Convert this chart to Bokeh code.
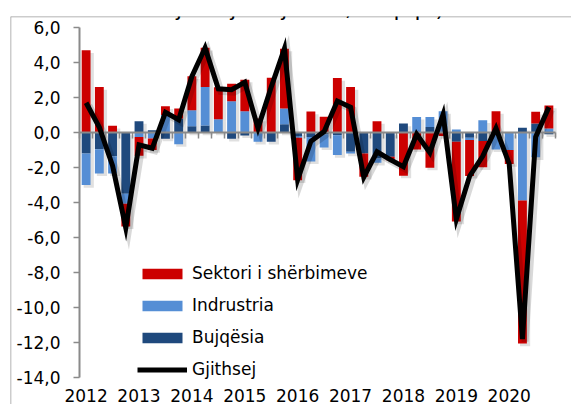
from bokeh.plotting import figure
from bokeh.models import (Range1d, LinearAxis, FixedTicker, Legend, LegendItem,
                          Label, ColumnDataSource)
from bokeh.embed import file_html
from bokeh.resources import INLINE

# ---------------- data (quarterly, 2012Q1 - 2020Q4) ----------------
years = ["2012", "2013", "2014", "2015", "2016", "2017", "2018", "2019", "2020"]

bujqesia = [-1.2, -0.95, -1.35, -3.5, 0.65, 0.13, -0.35, 0.8, 0.36, 0.4, 0.02, -0.36,
            -0.17, 0.0, -0.53, 0.47, -0.2, -0.25, -0.1, -0.15, -1.1, -1.2, -1.48, -1.39,
            0.51, 0.0, 0.32, 0.0, -0.53, -0.3, -0.49, 0.0, 0.0, 0.27, 0.51, -0.1]

industria = [-1.8, -1.39, -0.99, -0.57, -0.25, -0.34, 1.0, -0.67, 0.91, 2.2, 0.74, 1.79,
             1.22, -0.53, 0.0, 0.9, -0.1, -1.4, -0.75, -1.14, -0.1, 0.0, -0.25, 0.0,
             0.0, 0.89, 0.57, 1.22, 0.17, -0.13, 0.7, -0.97, -1.0, -3.89, -1.42, 0.23]

sherbimet = [4.7, 2.6, 0.38, -1.3, -1.08, -0.66, 0.5, 0.57, 1.94, 2.24, 1.82, 1.0,
             1.8, 0.8, 3.13, 3.42, -2.43, 1.2, 0.9, 3.11, 2.6, -1.33, 0.65, -0.19,
             -2.47, -0.97, -2.01, -0.2, -4.56, -2.05, -1.5, 1.22, -0.8, -8.17, 0.67, 1.31]

gjithsej = [1.7, 0.3, -1.9, -5.45, -0.7, -0.9, 1.15, 0.73, 3.2, 4.84, 2.5, 2.45,
            2.87, 0.25, 2.6, 4.79, -2.7, -0.5, 0.05, 1.8, 1.45, -2.55, -1.1, -1.55,
            -1.96, -0.1, -1.15, 1.03, -4.95, -2.5, -1.35, 0.24, -1.8, -11.8, -0.25, 1.45]

series_names = ["Bujqësia", "Indrustria", "Sektori i shërbimeve"]
line_name = "Gjithsej"
title_text = "(kontributet drejt rritjes vjetore, në p.p.)"

y_ticks = [-14, -12, -10, -8, -6, -4, -2, 0, 2, 4, 6]
y_tick_labels = ["-14,0", "-12,0", "-10,0", "-8,0", "-6,0", "-4,0", "-2,0", "0,0", "2,0", "4,0", "6,0"]

colors = ["#1f497d", "#558ed5", "#cc0000"]
FONT = "DejaVu Sans"
GRAY = "#8a8a8a"

# ---------------- stacking (positives up, negatives down) ----------------
n = len(gjithsej)
xs = list(range(n))
series = [bujqesia, industria, sherbimet]
bottoms = [[] for _ in series]
tops = [[] for _ in series]
for i in range(n):
    pos = 0.0
    neg = 0.0
    for s, vals in enumerate(series):
        v = vals[i]
        if v >= 0:
            b, t = pos, pos + v
            pos = t
        else:
            b, t = neg + v, neg
            neg = b
        bottoms[s].append(b)
        tops[s].append(t)

# ---------------- layout (pixels) ----------------
W, H = 571, 404
box_left, box_top = 10, 16          # outer chart box = plot frame
ax_left, ax_right = 79, 555         # category axis extent
y_top_px, y_bot_px = 27, 377        # 6,0 and -14,0 positions
y_max, y_min = y_ticks[-1], y_ticks[0]
ppu = (y_bot_px - y_top_px) / (y_max - y_min)
ppc = (ax_right - ax_left) / n

x_start = -0.5 - (ax_left - box_left) / ppc
x_end = -0.5 + (W - ax_left) / ppc
y_end = y_max + (y_top_px - box_top) / ppu
y_start = y_min - (H - y_bot_px) / ppu

p = figure(width=W, height=H, output_backend="svg", toolbar_location=None,
           x_range=Range1d(x_start, x_end), y_range=Range1d(y_start, y_end),
           x_axis_type=None, y_axis_type=None,
           min_border_left=box_left, min_border_right=0,
           min_border_top=box_top, min_border_bottom=0)
p.xgrid.visible = False
p.ygrid.visible = False
p.outline_line_color = None
p.background_fill_color = "white"
p.border_fill_color = "white"

bar_w = 0.67
sx, sy = 0.2, 0.15  # shadow offset

# shadows
for s in range(len(series)):
    src = ColumnDataSource(dict(x=[xx + sx for xx in xs],
                                top=[t - sy for t in tops[s]],
                                bottom=[b - sy for b in bottoms[s]]))
    p.vbar(x="x", top="top", bottom="bottom", width=bar_w + 0.1, source=src,
           fill_color="black", fill_alpha=0.12, line_color=None)

bar_renderers = []
for s in range(len(series)):
    src = ColumnDataSource(dict(x=xs, top=tops[s], bottom=bottoms[s]))
    r = p.vbar(x="x", top="top", bottom="bottom", width=bar_w, source=src,
               fill_color=colors[s], line_color=None)
    bar_renderers.append(r)

# line shadow + line
p.line([xx + sx for xx in xs], [v - sy for v in gjithsej], line_color="black",
       line_alpha=0.15, line_width=7, line_join="miter")
line_r = p.line(xs, gjithsej, line_color="black", line_width=5, line_join="miter")
line_r.level = "overlay"

# outer box edges (left and top)
box_l = LinearAxis(fixed_location=x_start, ticker=FixedTicker(ticks=[]))
box_l.axis_line_color = "#9a9a9a"
box_l.axis_line_width = 1.5
p.add_layout(box_l, "left")
box_t = LinearAxis(fixed_location=y_end, ticker=FixedTicker(ticks=[]))
box_t.axis_line_color = "#9a9a9a"
box_t.axis_line_width = 1.5
p.add_layout(box_t, "above")

# y axis
yax = LinearAxis(fixed_location=-0.5, bounds=(y_min, y_max),
                 ticker=FixedTicker(ticks=y_ticks),
                 major_label_overrides={t: l for t, l in zip(y_ticks, y_tick_labels)})
yax.axis_line_color = GRAY
yax.axis_line_width = 2
yax.major_tick_line_color = GRAY
yax.major_tick_line_width = 1.5
yax.major_tick_out = 6
yax.major_tick_in = 0
yax.minor_tick_line_color = None
yax.major_label_standoff = 13
yax.major_label_text_font = FONT
yax.major_label_text_font_size = "17px"
yax.major_label_text_color = "black"
p.add_layout(yax, "left")

# zero-line axis with category boundary ticks (minor ticks only, no labels)
zax = LinearAxis(fixed_location=0, bounds=(-0.5, n - 0.5),
                 ticker=FixedTicker(ticks=[], minor_ticks=[k - 0.5 for k in range(n + 1)]))
zax.axis_line_color = GRAY
zax.axis_line_width = 2
zax.minor_tick_line_color = GRAY
zax.minor_tick_line_width = 1.5
zax.minor_tick_out = 6
zax.minor_tick_in = 0
zax.major_tick_line_color = None
p.add_layout(zax, "below")

# year labels
year_pos = [4 * k for k in range(len(years))]
xax = LinearAxis(fixed_location=y_min, ticker=FixedTicker(ticks=year_pos),
                 major_label_overrides={t: y for t, y in zip(year_pos, years)})
xax.axis_line_color = None
xax.major_tick_line_color = None
xax.minor_tick_line_color = None
xax.major_tick_out = 0
xax.major_tick_in = 0
xax.major_label_standoff = 11
xax.major_label_text_font = FONT
xax.major_label_text_font_size = "17px"
xax.major_label_text_color = "black"
p.add_layout(xax, "below")

# legend
legend = Legend(items=[
    LegendItem(label=series_names[2], renderers=[bar_renderers[2]]),
    LegendItem(label=series_names[1], renderers=[bar_renderers[1]]),
    LegendItem(label=series_names[0], renderers=[bar_renderers[0]]),
    LegendItem(label=line_name, renderers=[line_r]),
], location=(127, 25))
legend.glyph_width = 50
legend.glyph_height = 13
legend.label_height = 18
legend.spacing = 12
legend.padding = 0
legend.margin = 0
legend.label_standoff = 5
legend.border_line_color = None
legend.background_fill_alpha = 0
legend.label_text_font = FONT
legend.label_text_font_size = "17px"
legend.label_text_color = "black"
p.add_layout(legend)

# title (cut at top like the reference)
title = Label(x=x_start - 8 / ppc, y=y_end + (box_top - 7.5) / ppu, text=title_text,
              text_font=FONT, text_font_size="22px", text_color="black",
              text_baseline="alphabetic")
p.add_layout(title)

open("out.html", "w").write(file_html(p, INLINE))
